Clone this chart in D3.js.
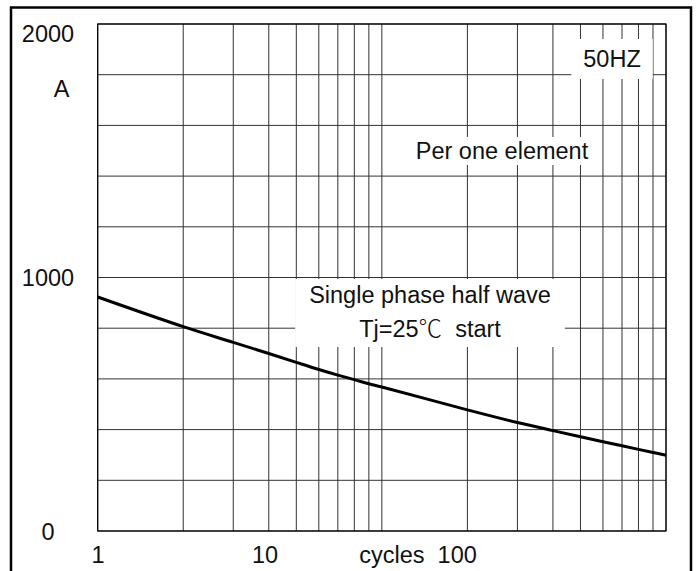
<!DOCTYPE html>
<html>
<head>
<meta charset="utf-8">
<script src="https://cdn.jsdelivr.net/npm/d3@7"></script>
<style>
  body { margin: 0; background: #fff; }
  text { font-family: "Liberation Sans", Arial, sans-serif; fill: #111; white-space: pre; }
</style>
</head>
<body>
<div class="canva"></div>
<script>
// surge current vs cycles
var cycles = [1, 2, 3, 4, 5, 6, 7, 8, 9, 10, 20, 30, 40, 50, 60, 70, 80, 90, 100];
var surgeAmps = [923, 806, 744, 700, 665, 637, 615, 597, 581, 568, 478, 428, 396, 372, 352, 336, 322, 310, 299];

var yTickValues = [0, 1000, 2000];
var xTickLabels = ["1", "10", "cycles  100"];
var yUnit = "A";

const W = 698, H = 571;
const margin = {top: 24, right: 32, bottom: 40, left: 97.7};
const graphWidth = 666 - margin.left;
const graphHeight = 531 - margin.top;
const fontSize = "23.5px";

const svg = d3.select(".canva").append("svg")
    .attr("width", W)
    .attr("height", H);

// outer frame (bottom edge runs off the picture)
svg.append("rect")
    .attr("x", 11).attr("y", 7.5)
    .attr("width", 680).attr("height", 600)
    .attr("fill", "none")
    .attr("stroke", "#000")
    .attr("stroke-width", 2.5);

const g = svg.append("g")
    .attr("transform", `translate(${margin.left}, ${margin.top})`);

var x = d3.scaleLog().domain([1, 100]).range([0, graphWidth]);
var y = d3.scaleLinear().domain([0, 2000]).range([graphHeight, 0]);

// grid: every integer cycle on the log axis, every 200 A
var xGrid = [];
for (var d = 1; d <= 10; d *= 10) {
    for (var k = 1; k <= 10; k++) xGrid.push(d * k);
}
xGrid = Array.from(new Set(xGrid));
var yGrid = d3.range(0, 2001, 200);

g.selectAll(".vgrid").data(xGrid).enter().append("line")
    .attr("x1", d => x(d)).attr("x2", d => x(d))
    .attr("y1", 0).attr("y2", graphHeight)
    .attr("stroke", "#333").attr("stroke-width", 1);

g.selectAll(".hgrid").data(yGrid).enter().append("line")
    .attr("x1", 0).attr("x2", graphWidth)
    .attr("y1", d => y(d)).attr("y2", d => y(d))
    .attr("stroke", "#333").attr("stroke-width", 1);

// annotations with white boxes that cut the grid
function note(lines, cx, baselines, padX, padY) {
    var grp = svg.append("g");
    var box = grp.append("rect").attr("fill", "#fff");
    grp.selectAll("text").data(lines).enter().append("text")
        .attr("x", cx)
        .attr("y", (d, i) => baselines[i])
        .attr("text-anchor", "middle")
        .style("font-size", fontSize)
        .each(function(d) {
            // the degree sign in the original is a wide CJK glyph
            var parts = d.split("\u2103");
            var t = d3.select(this);
            parts.forEach(function(p, j) {
                if (j > 0) t.append("tspan")
                    .style("font-family", "'Noto Sans CJK SC'")
                    .style("font-weight", 300)
                    .text("\u2103");
                t.append("tspan").text(p);
            });
        });
    var bb = grp.node().getBBox();
    box.attr("x", bb.x - padX).attr("y", bb.y - padY)
        .attr("width", bb.width + 2 * padX)
        .attr("height", bb.height + 2 * padY);
}
note(["50HZ"], 612, [67], 12, 7);
note(["Per one element"], 502, [159], 12, 1);
note(["Single phase half wave", "Tj=25\u2103  start"], 430, [303, 337], 14, 3);

var line = d3.line()
    .x((d, i) => x(cycles[i]))
    .y(d => y(d))
    .curve(d3.curveCatmullRom);

g.append("path")
    .datum(surgeAmps)
    .attr("fill", "none")
    .attr("stroke", "#000")
    .attr("stroke-width", 3)
    .attr("d", line);

// plot border
g.append("rect")
    .attr("width", graphWidth).attr("height", graphHeight)
    .attr("fill", "none")
    .attr("stroke", "#000")
    .attr("stroke-width", 1.2);

// y labels (datasheet puts them a bit off the grid lines)
svg.selectAll(".ylab").data(yTickValues).enter().append("text")
    .attr("x", 48)
    .attr("y", d => Math.max(margin.top + y(d), 33) + 8.5)
    .attr("text-anchor", "middle")
    .style("font-size", fontSize)
    .text(d => d);

svg.append("text")
    .attr("x", 61.5).attr("y", 97)
    .attr("text-anchor", "middle")
    .style("font-size", fontSize)
    .text(yUnit);

// x labels sit where the original drawing put them
var xLabelPos = [98, 265, 418];
svg.selectAll(".xlab").data(xTickLabels).enter().append("text")
    .attr("x", (d, i) => xLabelPos[i])
    .attr("y", 563)
    .attr("text-anchor", "middle")
    .style("font-size", fontSize)
    .text(d => d);
</script>
</body>
</html>
